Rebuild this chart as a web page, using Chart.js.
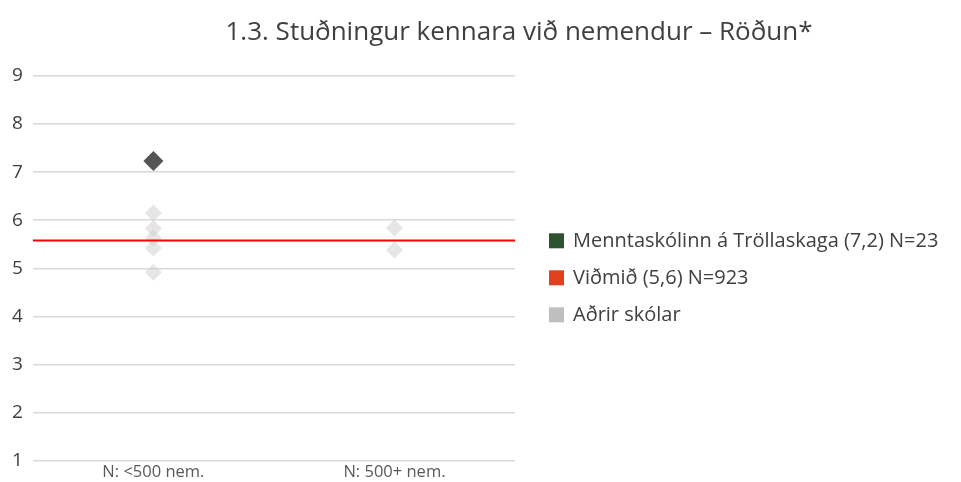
<!DOCTYPE html>
<html>
<head>
<meta charset="utf-8">
<script src="https://cdn.jsdelivr.net/npm/chart.js@4/dist/chart.umd.min.js"></script>
<style>
  html, body { margin: 0; padding: 0; background: #fff; }
  #wrap { width: 961px; height: 482px; }
</style>
</head>
<body>
<div id="wrap"><canvas id="c" width="961" height="482"></canvas></div>
<script>
const titleText = '1.3. Stuðningur kennara við nemendur – Röðun*';
const categories = ['N: <500 nem.', 'N: 500+ nem.'];

// the school itself
const schoolLabel = 'Menntaskólinn á Tröllaskaga (7,2) N=23';
const schoolCat = ['N: <500 nem.'];
const schoolValues = [7.23];

// reference value (drawn as horizontal line)
const refLabel = 'Viðmið (5,6) N=923';
const refValue = [5.58];

// other schools
const otherLabel = 'Aðrir skólar';
const otherCats = ['N: <500 nem.', 'N: <500 nem.', 'N: <500 nem.', 'N: <500 nem.', 'N: <500 nem.', 'N: <500 nem.', 'N: 500+ nem.', 'N: 500+ nem.'];
const otherValues = [7.2, 6.15, 5.83, 5.63, 5.42, 4.92, 5.84, 5.38];

const legendLabels = [schoolLabel, refLabel, otherLabel];
const legendColors = ['#2E5130', '#E2401C', '#BFBFBF'];

const fontFamily = '"Open Sans", Lato, sans-serif';

const refLinePlugin = {
    id: 'refLine',
    afterDatasetsDraw(chart) {
        const { ctx, chartArea, scales } = chart;
        const y = Math.round(scales.y.getPixelForValue(refValue[0])) + 0.5;
        ctx.save();
        ctx.strokeStyle = '#FF0000';
        ctx.lineWidth = 2;
        ctx.beginPath();
        ctx.moveTo(chartArea.left, y);
        ctx.lineTo(chartArea.right, y);
        ctx.stroke();
        ctx.restore();
    }
};

// title and legend drawn by hand so they can sit where the original has them
const decorPlugin = {
    id: 'decor',
    afterDraw(chart) {
        const ctx = chart.ctx;
        const area = chart.chartArea;
        ctx.save();
        ctx.font = '26px ' + fontFamily;
        ctx.fillStyle = '#404040';
        ctx.textAlign = 'center';
        ctx.textBaseline = 'middle';
        ctx.fillText(titleText, 519, 33);

        ctx.font = '20px ' + fontFamily;
        ctx.textAlign = 'left';
        const midY = (area.top + area.bottom) / 2;
        const gap = 37;
        legendLabels.forEach((t, i) => {
            const y = midY + (i - 1) * gap + 9;
            ctx.fillStyle = legendColors[i];
            ctx.fillRect(area.right + 34, y - 7, 15, 15);
            ctx.fillStyle = '#404040';
            ctx.fillText(t, area.right + 58, y + 1);
        });
        ctx.restore();
    }
};

const ctx = document.getElementById('c').getContext('2d');
new Chart(ctx, {
    type: 'line',
    data: {
        labels: categories,
        datasets: [
            {
                label: schoolLabel,
                data: schoolCat.map((c, i) => ({ x: c, y: schoolValues[i] })),
                showLine: false,
                pointStyle: 'rectRot',
                pointRadius: 10,
                pointBackgroundColor: '#555555',
                pointBorderColor: '#555555',
                pointBorderWidth: 0,
                order: 0
            },
            {
                label: otherLabel,
                data: otherCats.map((c, i) => ({ x: c, y: otherValues[i] })),
                showLine: false,
                pointStyle: 'rectRot',
                pointRadius: 8.5,
                pointBackgroundColor: 'rgba(205,205,205,0.5)',
                pointBorderColor: 'rgba(205,205,205,0.5)',
                pointBorderWidth: 0,
                order: 2
            }
        ]
    },
    options: {
        responsive: false,
        animation: false,
        layout: { padding: { top: 76, right: 446, left: 2, bottom: -2 } },
        plugins: {
            title: { display: false },
            tooltip: { enabled: false },
            legend: { display: false }
        },
        scales: {
            x: {
                type: 'category',
                offset: true,
                grid: { display: false, drawTicks: false },
                border: { display: false },
                ticks: { color: '#595959', font: { family: fontFamily, size: 16.5, lineHeight: 0.9 }, padding: 4 }
            },
            y: {
                min: 1,
                max: 9,
                ticks: { stepSize: 1, color: '#404040', font: { family: fontFamily, size: 19 }, padding: 10 },
                grid: { color: '#D9D9D9', lineWidth: 1.5, drawTicks: false },
                border: { display: false }
            }
        }
    },
    plugins: [refLinePlugin, decorPlugin]
});
</script>
</body>
</html>
